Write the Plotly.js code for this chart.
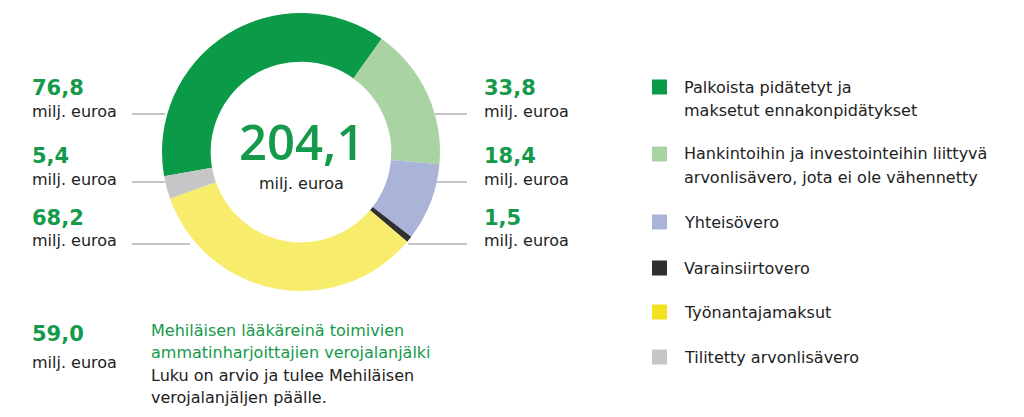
<!DOCTYPE html>
<html>
<head>
<meta charset="utf-8">
<script src="https://cdn.plot.ly/plotly-3.0.1.min.js"></script>
<style>html,body{margin:0;padding:0;background:#fff;}#chart{width:1024px;height:417px;}</style>
</head>
<body>
<div id="chart"></div>
<script>
// Data
const categories = [
  "Palkoista pidätetyt ja<br>maksetut ennakonpidätykset",
  "Hankintoihin ja investointeihin liittyvä<br>arvonlisävero, jota ei ole vähennetty",
  "Yhteisövero",
  "Varainsiirtovero",
  "Työnantajamaksut",
  "Tilitetty arvonlisävero"
];
const values = [76.8, 33.8, 18.4, 1.5, 68.2, 5.4];
const valueLabels = ["76,8", "33,8", "18,4", "1,5", "68,2", "5,4"];
const totalLabel = "204,1";
const unitLabel = "milj. euroa";
const extraValueLabel = "59,0";
const extraTitle = ["Mehiläisen lääkäreinä toimivien", "ammatinharjoittajien verojalanjälki"];
const extraNote = ["Luku on arvio ja tulee Mehiläisen", "verojalanjäljen päälle."];

// Styles
const sliceColors = ["#0b9b48", "#a9d3a3", "#aab3d8", "#303030", "#f7ec6b", "#c6c6c6"];
const legendColors = ["#0b9b48", "#a9d3a3", "#aab3d8", "#303030", "#f3e31f", "#c6c6c6"];
const GREEN = "#159a4b";
const DARK = "#222222";
const FONT = "DejaVu Sans";
const W = 1024, H = 417;
const px = x => x / W;
const py = y => 1 - y / H;

const cx = 301, cy = 152, R = 139;

const trace = {
  type: "pie",
  values: values,
  labels: categories,
  sort: false,
  direction: "clockwise",
  rotation: -100,
  hole: 0.65,
  marker: {colors: sliceColors, line: {width: 0}},
  textinfo: "none",
  hoverinfo: "label+value",
  showlegend: false,
  domain: {x: [px(cx - R), px(cx + R)], y: [py(cy + R), py(cy - R)]}
};

const annotations = [];
const shapes = [];
function txt(x, y, text, size, color, bold, anchor, family, weight) {
  const f = {family: family || FONT, size: size, color: color};
  if (weight) f.weight = weight;
  annotations.push({
    xref: "paper", yref: "paper", x: px(x), y: py(y), text: bold ? "<b>" + text + "</b>" : text,
    showarrow: false, xanchor: anchor || "left", yanchor: "middle",
    font: f
  });
}

// side value labels: [sliceIndex, textX, valueY, lineX1, lineX2]
const sideLabels = [
  [0, 30, 88, 132, 165],
  [5, 30, 156, 132, 165],
  [4, 30, 218, 132, 190],
  [1, 482, 88, 435, 467],
  [2, 482, 156, 437, 467],
  [3, 482, 218, 408, 467]
];
sideLabels.forEach(([i, x, y, l1, l2]) => {
  txt(x, y, valueLabels[i], 21, GREEN, true);
  txt(x, y + 23, unitLabel, 16, DARK, false);
  shapes.push({type: "line", xref: "paper", yref: "paper", x0: px(l1), x1: px(l2), y0: py(y + 26), y1: py(y + 26),
    line: {color: "#b0b0b0", width: 1.5}, layer: "below"});
});

// center total
txt(cx, 141, totalLabel, 49, GREEN, false, "center", "Open Sans", 600);
txt(cx, 184, unitLabel, 16, DARK, false, "center");

// legend
const legendY = [87, 154, 222, 268, 312, 357];
categories.forEach((c, i) => {
  const y = legendY[i];
  shapes.push({type: "rect", xref: "paper", yref: "paper", x0: px(652), x1: px(667), y0: py(y + 7.5), y1: py(y - 7.5),
    fillcolor: legendColors[i], line: {width: 0}});
  c.split("<br>").forEach((line, k) => txt(682, y + k * 23, line, 16, DARK, false));
});

// bottom block
txt(30, 334, extraValueLabel, 21, GREEN, true);
txt(30, 362, unitLabel, 16, DARK, false);
extraTitle.forEach((t, k) => txt(149, 330 + k * 22, t, 16, GREEN, false));
extraNote.forEach((t, k) => txt(149, 375 + k * 22, t, 16, DARK, false));

Plotly.newPlot("chart", [trace], {
  width: W, height: H,
  margin: {l: 0, r: 0, t: 0, b: 0},
  paper_bgcolor: "#ffffff",
  showlegend: false,
  annotations: annotations,
  shapes: shapes
}, {displayModeBar: false, staticPlot: true});
</script>
</body>
</html>
